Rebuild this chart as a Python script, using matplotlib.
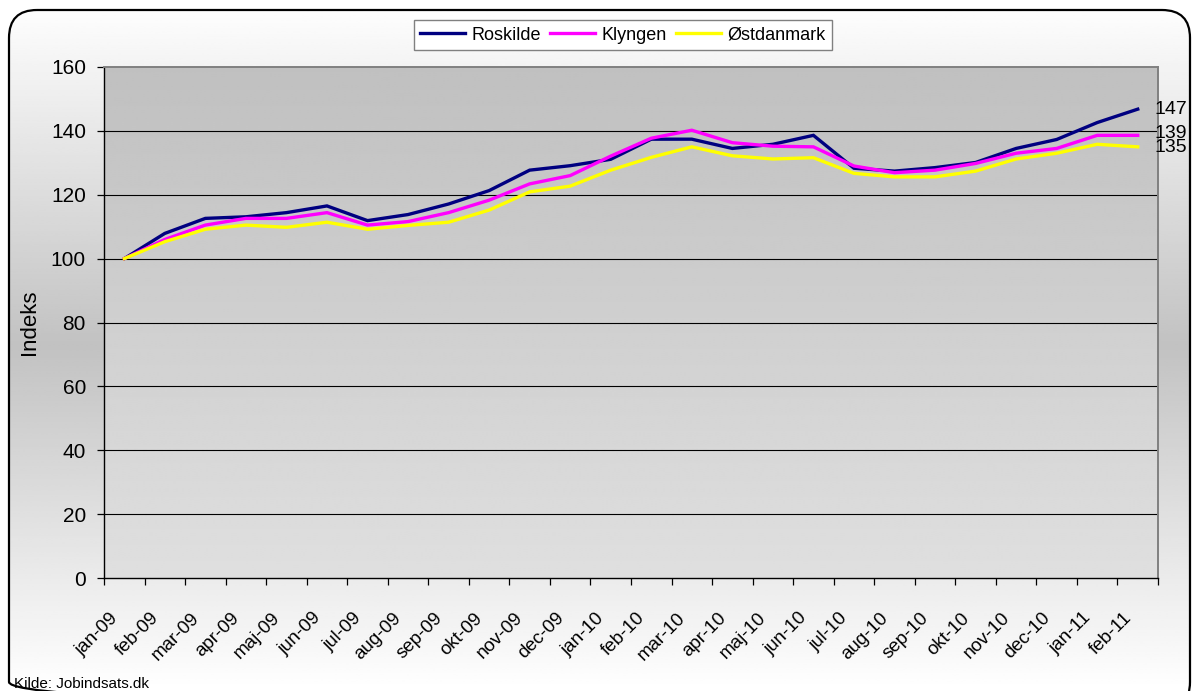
import matplotlib
matplotlib.use("Agg")
import matplotlib.pyplot as plt
import matplotlib.transforms as mtransforms
from matplotlib import font_manager
from matplotlib.patches import FancyBboxPatch
import numpy as np

# Monthly index values (jan-09 = 100)
months = ["jan-09", "feb-09", "mar-09", "apr-09", "maj-09", "jun-09",
          "jul-09", "aug-09", "sep-09", "okt-09", "nov-09", "dec-09",
          "jan-10", "feb-10", "mar-10", "apr-10", "maj-10", "jun-10",
          "jul-10", "aug-10", "sep-10", "okt-10", "nov-10", "dec-10",
          "jan-11", "feb-11"]
roskilde = [100, 107.9, 112.6, 113.1, 114.4, 116.5, 111.9, 113.8, 117.1,
            121.3, 127.7, 129.1, 131.1, 137.4, 137.4, 134.5, 135.8, 138.6,
            128.3, 127.4, 128.5, 130.1, 134.5, 137.3, 142.6, 146.8]
klyngen = [100, 106.0, 110.5, 112.6, 112.6, 114.4, 110.5, 111.6, 114.4,
           118.3, 123.4, 126.0, 132.1, 137.7, 140.2, 136.3, 135.2, 135.0,
           129.0, 126.9, 127.7, 129.8, 133.0, 134.5, 138.6, 138.6]
oestdanmark = [100, 105.3, 109.2, 110.5, 109.8, 111.4, 109.2, 110.4, 111.4,
               115.2, 120.9, 122.7, 127.7, 131.7, 135.0, 132.2, 131.2, 131.6,
               126.7, 125.6, 125.6, 127.4, 131.2, 133.0, 135.8, 135.0]

series_names = ["Roskilde", "Klyngen", "Østdanmark"]
series_colors = ["#000080", "#FF00FF", "#FFFF00"]
y_ticks = [0, 20, 40, 60, 80, 100, 120, 140, 160]

plt.rcParams["font.family"] = ["Liberation Sans", "DejaVu Sans"]

# narrow face for the month labels if it is installed
installed = {f.name for f in font_manager.fontManager.ttflist}
month_font = "Liberation Sans Narrow" if "Liberation Sans Narrow" in installed else "Liberation Sans"

W, H = 1192, 691
fig = plt.figure(figsize=(W / 100, H / 100), dpi=100)
fig.patch.set_facecolor("white")

# background layer in pixel coordinates (y down)
bg = fig.add_axes([0, 0, 1, 1], zorder=-1)
bg.set_xlim(0, W)
bg.set_ylim(H, 0)
bg.axis("off")

frame = FancyBboxPatch((9, 10), 1181, 700,
                       boxstyle="round,pad=0,rounding_size=28",
                       facecolor="none", edgecolor="black", lw=1.6, zorder=3)
bg.add_patch(frame)

yy = np.linspace(0, 1, 256)
shade = np.where(yy < 0.5, 1.0 - 0.5 * yy, 0.5 + 0.5 * yy)
shade = 0.76 + (shade - 0.75) * (0.24 / 0.25)
grad = np.repeat(shade[:, None], 2, axis=1)
img = bg.imshow(grad, cmap="gray", vmin=0, vmax=1, extent=(0, W, H, 0),
                aspect="auto", zorder=1, interpolation="bilinear")
img.set_clip_path(frame)

# plot area gradient
ax_l, ax_r, ax_t, ax_b = 104, 1158, 67, 578
pa = np.linspace(0.753, 0.875, 256)[:, None].repeat(2, axis=1)
bg.imshow(pa, cmap="gray", vmin=0, vmax=1, extent=(ax_l, ax_r, ax_b, ax_t),
          aspect="auto", zorder=2, interpolation="bilinear")

ax = fig.add_axes([ax_l / W, 1 - ax_b / H, (ax_r - ax_l) / W, (ax_b - ax_t) / H])
ax.set_facecolor("none")

# small vertical nudges of the end labels, as in the original
label_nudge = [0, 2, -1]

x = np.arange(len(months))
for name, vals, col, dy in zip(series_names, [roskilde, klyngen, oestdanmark],
                               series_colors, label_nudge):
    ax.plot(x, vals, color=col, lw=2.4, label=name, zorder=3,
            solid_joinstyle="miter")
    ax.annotate(f"{vals[-1]:.0f}", xy=(x[-1], vals[-1]), xytext=(17, dy),
                textcoords="offset pixels", ha="left", va="center",
                fontsize=14, annotation_clip=False)

ax.set_xlim(-0.5, len(months) - 0.5)
ax.set_ylim(y_ticks[0], y_ticks[-1])

for yv in y_ticks[1:-1]:
    ax.axhline(yv, color="black", lw=0.8, zorder=1)

ax.set_yticks(y_ticks)
ax.tick_params(axis="y", direction="out", length=5, width=0.9, pad=8,
               labelsize=15, color="black")

ax.set_xticks(np.arange(-0.5, len(months), 1))
ax.set_xticklabels([])
ax.set_xticks(x, minor=True)
ax.set_xticklabels(months, minor=True, rotation=45, ha="right", va="center",
                   rotation_mode="anchor", fontsize=13.5, family=month_font)
ax.tick_params(axis="x", which="major", direction="out", length=5, width=0.9)
ax.tick_params(axis="x", which="minor", length=0, pad=27)
shift = mtransforms.ScaledTranslation(-9 / 100, 0, fig.dpi_scale_trans)
for lbl in ax.get_xticklabels(minor=True):
    lbl.set_transform(lbl.get_transform() + shift)

ax.spines["left"].set_color("black")
ax.spines["bottom"].set_color("black")
ax.spines["left"].set_linewidth(1.0)
ax.spines["bottom"].set_linewidth(1.0)
for s in ("top", "right"):
    ax.spines[s].set_color("#808080")
    ax.spines[s].set_linewidth(1.4)

ax.set_ylabel("Indeks", fontsize=16, labelpad=8)

leg = ax.legend(loc="center", bbox_to_anchor=(623 / W, 1 - 35 / H),
                bbox_transform=fig.transFigure, ncol=3, fontsize=13,
                frameon=True, fancybox=False, framealpha=1,
                edgecolor="#808080", facecolor="white",
                handlelength=2.5, handletextpad=0.35, columnspacing=0.5,
                borderpad=0.35, borderaxespad=0)
leg.get_frame().set_linewidth(1.0)
for h in leg.get_lines():
    h.set_linewidth(2.4)

fig.text(14 / W, 1 - 684 / H, "Kilde: Jobindsats.dk", fontsize=11,
         ha="left", va="center")

fig.savefig("out.png", dpi=100)
